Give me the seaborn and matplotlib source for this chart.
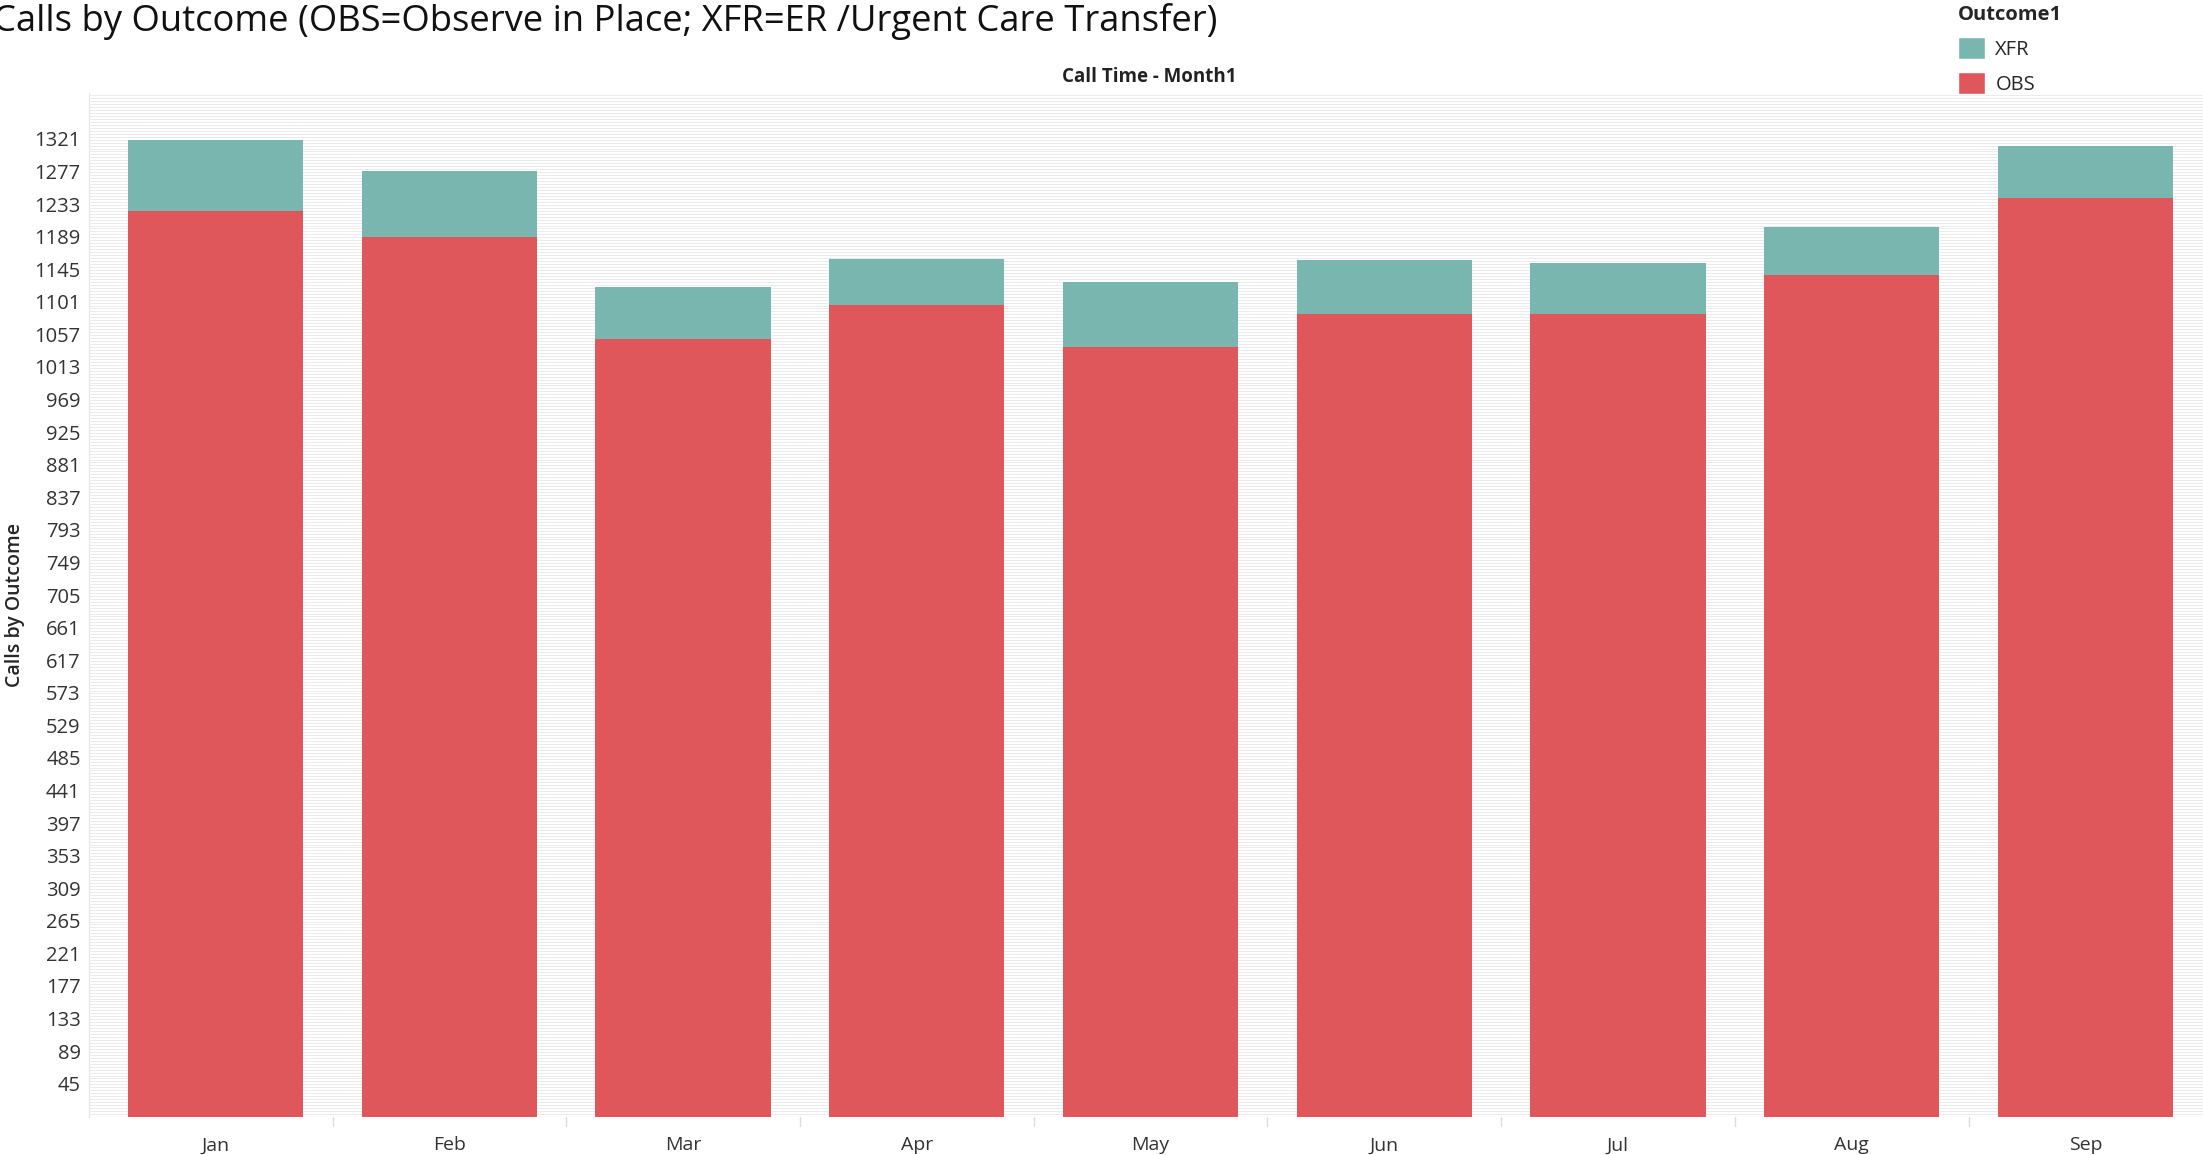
import numpy as np
import pandas as pd
import matplotlib
matplotlib.use('Agg')
import matplotlib.pyplot as plt
import seaborn as sns
from matplotlib.patches import Patch

# values
months = ['Jan', 'Feb', 'Mar', 'Apr', 'May', 'Jun', 'Jul', 'Aug', 'Sep']
obs = [1224, 1188, 1051, 1097, 1040, 1085, 1084, 1137, 1241]
xfr = [96, 89, 70, 62, 88, 73, 70, 65, 71]
ytick_vals = list(range(45, 1322, 44))

TEAL = '#79b6b0'
RED = '#e0575b'

sns.set_style('white')
plt.rcParams['font.family'] = ['Open Sans', 'DejaVu Sans']

df = pd.DataFrame({'month': months, 'OBS': obs, 'XFR': xfr})
df['total'] = df['OBS'] + df['XFR']

fig = plt.figure(figsize=(22.03, 11.55), dpi=100)
ax = fig.add_axes([89 / 2203, 1 - 1117 / 1155, 1 - 89 / 2203, (1117 - 93) / 1155])

# faint striped background like the original
ax.hlines(np.arange(0, 1384, 4), -1, 9, colors='#ebebeb', linewidth=0.7, zorder=0)

# stacked bars: total in teal, OBS drawn over it in red
sns.barplot(data=df, x='month', y='total', color=TEAL, width=0.75,
            saturation=1, edgecolor='none', ax=ax, zorder=2)
sns.barplot(data=df, x='month', y='OBS', color=RED, width=0.75,
            saturation=1, edgecolor='none', ax=ax, zorder=3)

ax.set_xlim(-0.542, 8.503)
ax.set_ylim(0, 1383)
ax.set_yticks(ytick_vals)
ax.set_yticklabels([str(v) for v in ytick_vals], fontsize=14.5, color='#333333')
ax.tick_params(axis='y', length=0, pad=6)
ax.tick_params(axis='x', length=0, labelsize=14, labelcolor='#333333', pad=14)
ax.set_xlabel('')
ax.set_ylabel('Calls by Outcome', fontsize=14, fontweight='semibold')
ax.yaxis.set_label_coords(-0.0305, 0.5)
for s in ['top', 'right', 'bottom']:
    ax.spines[s].set_visible(False)
ax.spines['left'].set_color('#e6e6e6')

# small separators between months below the axis
for b in np.arange(0.5, 8.5, 1):
    ax.plot([b, b], [0, -12], color='#dddddd', lw=1, clip_on=False)

fig.text(-0.003, 0.981, 'Calls by Outcome (OBS=Observe in Place; XFR=ER /Urgent Care Transfer)',
         fontsize=26.2, ha='left', va='center', color='#111111')
fig.text(1149 / 2203, 1 - 77 / 1155, 'Call Time - Month1', fontsize=13.5,
         fontweight='bold', ha='center', va='center', color='#222222')

handles = [Patch(facecolor=TEAL, label='XFR'), Patch(facecolor=RED, label='OBS')]
leg = fig.legend(handles=handles, title='Outcome1', loc='upper left',
                 bbox_to_anchor=(1950 / 2203, 1.003), frameon=False,
                 fontsize=14.5, title_fontsize=14.5, handlelength=1.35, handleheight=1.35,
                 handletextpad=0.5, labelspacing=0.6, borderaxespad=0)
leg.get_title().set_fontweight('bold')
leg._legend_box.align = 'left'

fig.savefig('out.png', dpi=100)
